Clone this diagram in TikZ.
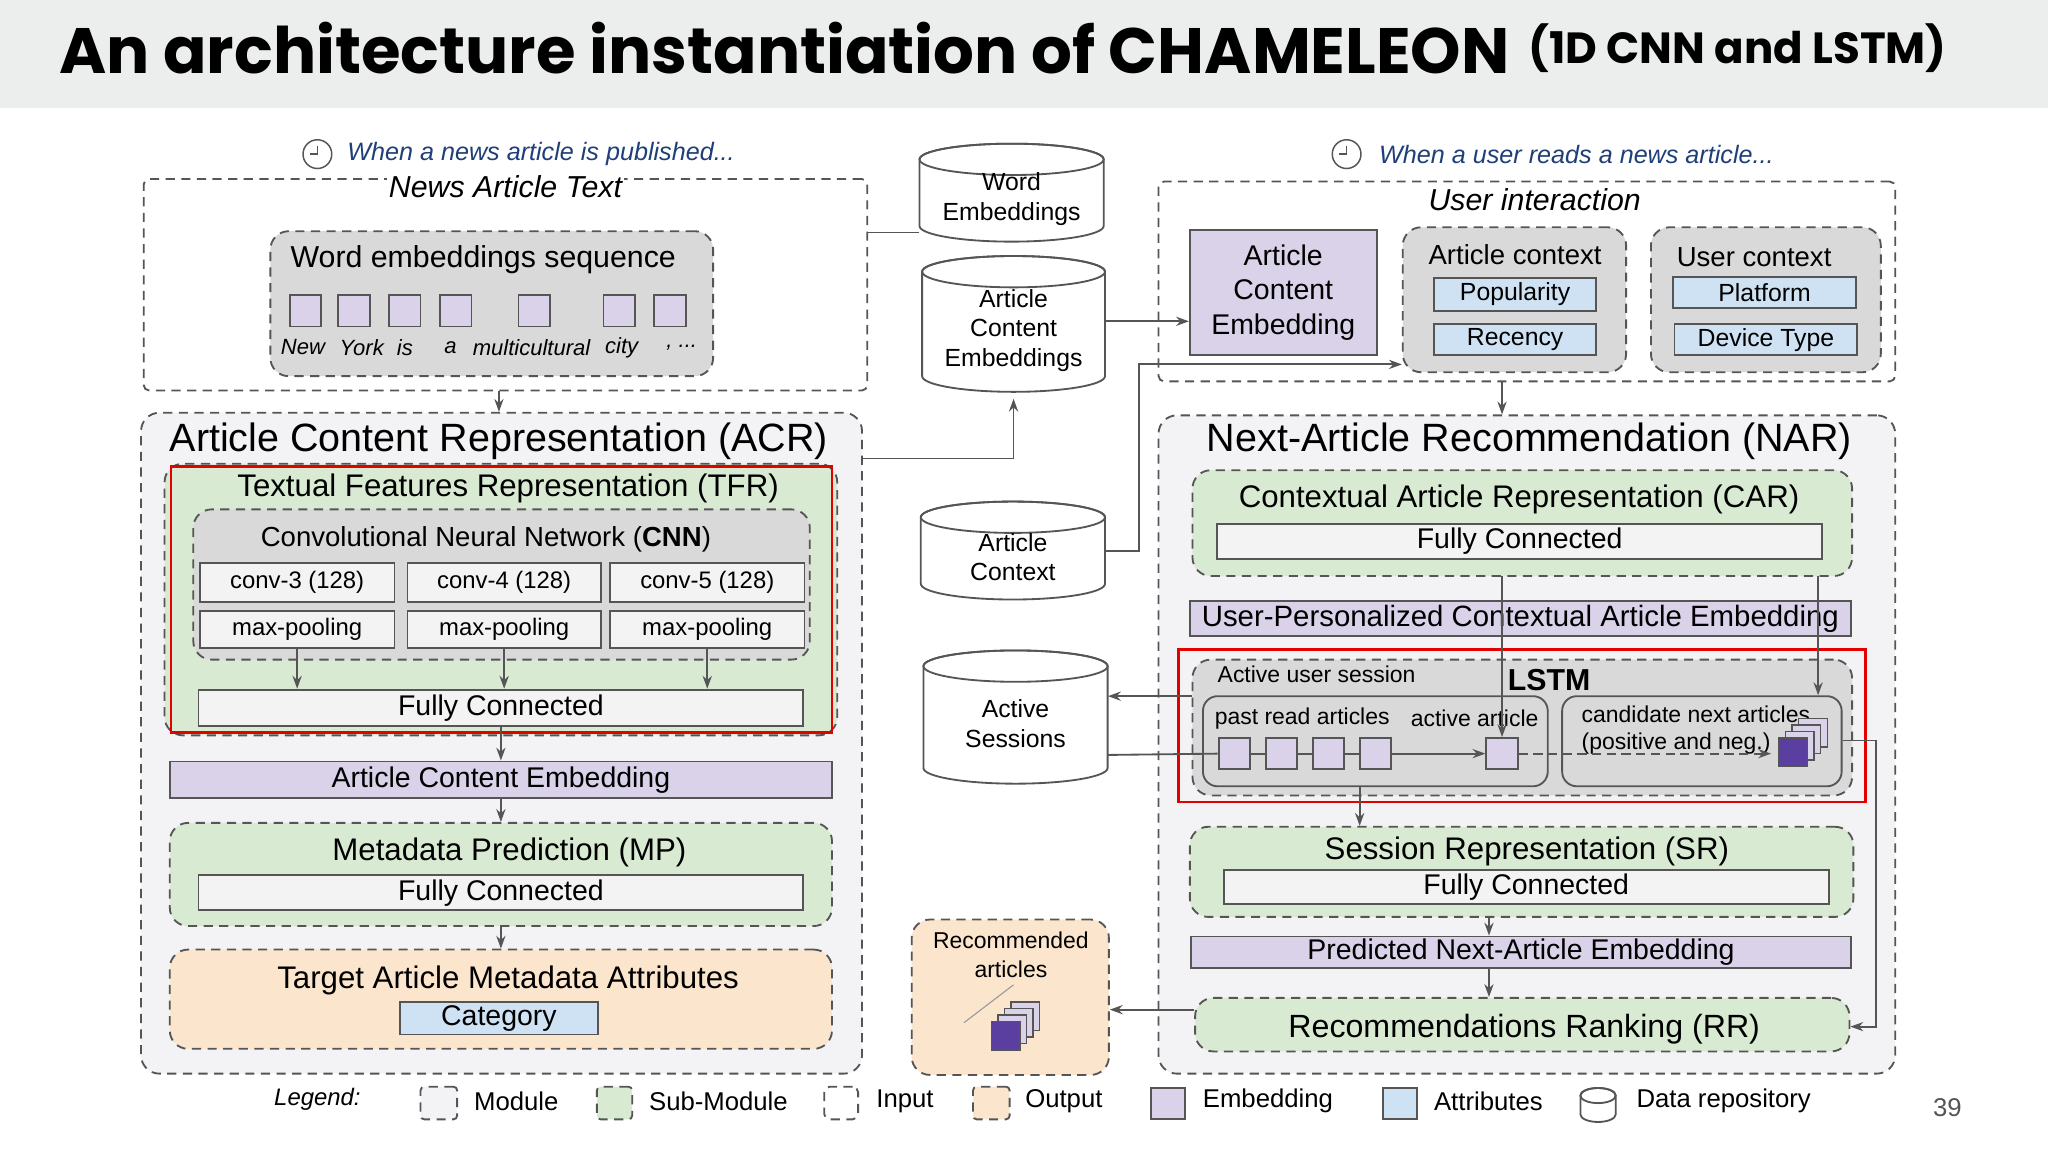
\documentclass[tikz,border=0pt]{standalone}
\usepackage{fontspec}
\setmainfont{Liberation Sans}
\newfontfamily\titlef{Poppins}
\usetikzlibrary{arrows.meta,calc}
\definecolor{modf}{HTML}{F3F3F5}
\definecolor{subf}{HTML}{D9EAD3}
\definecolor{grayf}{HTML}{D9D9D9}
\definecolor{purf}{HTML}{D9D2E9}
\definecolor{bluf}{HTML}{CFE2F3}
\definecolor{peaf}{HTML}{FCE5CD}
\definecolor{whf}{HTML}{F3F3F3}
\definecolor{bd}{HTML}{555555}
\definecolor{hd}{HTML}{1F3F78}
\definecolor{dpur}{HTML}{5B3FA0}
\definecolor{tbar}{HTML}{ECEEED}
\newcommand\fs[2]{\fontsize{#1}{#2}\selectfont}
\newcommand\nb[8][]{\node[#2, minimum width={((#6)-(#4))*0.025cm}, minimum height={((#7)-(#5))*0.025cm}, inner sep=0pt, #1] (#3) at ({((#4)+(#6))/2},{((#5)+(#7))/2}) {#8};}
\newcommand\cyl[6]{%
  \pgfmathsetmacro\ry{min(12,((#5)-(#3))/4.5)}%
  \path[draw=bd,line width=1pt,fill=white] (#2,#3+\ry) -- (#2,#5-\ry) arc[start angle=180,end angle=0,x radius={(#4-#2)/2},y radius=\ry] -- (#4,#3+\ry) arc[start angle=0,end angle=-180,x radius={(#4-#2)/2},y radius=\ry];
  \draw[bd,line width=1pt] ({(#2+#4)/2},#3+\ry) ellipse[x radius={(#4-#2)/2},y radius=\ry];
  \node[minimum width={(#4-#2)*0.025cm}, minimum height={(#5-#3)*0.025cm}, inner sep=0pt, align=center, font=\fs{13.5}{16}] (#1) at ({(#2+#4)/2},{(#3+#5)/2+5}) {#6};}
\newcommand\stk[2]{%
  \foreach \d in {3,2,1}{\draw[bd,fill=purf,line width=.8pt] (#1+\d*5-11,#2-\d*5-11) rectangle ++(22,22);}
  \draw[bd,fill=dpur,line width=.8pt] (#1-11,#2-11) rectangle ++(22,22);}
\newcommand\clock[2]{\draw[bd,line width=.8pt] (#1,#2) circle[radius=11]; \draw[bd,line width=.8pt] (#1,#2-6) -- (#1,#2) -- (#1-6,#2);}
\tikzset{
  x=0.025cm, y=-0.025cm,
  module/.style={draw=bd, line width=1pt, fill=modf, rounded corners=10pt, dash pattern=on 5pt off 3.5pt},
  sub/.style={module, fill=subf},
  inmod/.style={module, fill=white, rounded corners=3pt},
  outmod/.style={module, fill=peaf},
  grayb/.style={module, fill=grayf},
  fc/.style={draw=bd, line width=1pt, fill=whf, font=\fs{15.5}{18}},
  emb/.style={draw=bd, line width=1pt, fill=purf, font=\fs{15.5}{18}},
  att/.style={draw=bd, line width=1pt, fill=bluf, font=\fs{13.5}{16}},
  sq/.style={draw=bd, line width=1pt, fill=purf},
  conv/.style={draw=bd, line width=1pt, fill=whf, font=\fs{13}{15}},
  inner/.style={draw=bd, line width=1pt, fill=grayf, rounded corners=8pt},
  red/.style={draw=red!90!black, line width=1.5pt},
  conn/.style={draw=bd, line width=1pt, -{Stealth[length=7pt,width=5pt]}},
  line/.style={draw=bd, line width=1pt},
  mt/.style={font=\fs{21.5}{25}},
  st/.style={font=\fs{17}{20}},
  lt/.style={font=\fs{14}{17}},
  hdt/.style={font=\fs{13.7}{16}\itshape, text=hd},
}
\begin{document}
\begin{tikzpicture}
\useasboundingbox (0,0) rectangle (1568,882);
\fill[white] (0,0) rectangle (1568,882);
\fill[tbar] (0,0) rectangle (1568,83);
\node[anchor=south west, inner sep=0] (title) at (45,57) {\resizebox{27.75cm}{!}{\titlef\bfseries An architecture instantiation of CHAMELEON}};
\node[anchor=south west, inner sep=0] (title2) at (1170,56) {\resizebox{8cm}{!}{\titlef\bfseries (1D CNN and LSTM)}};

% ===== left input
\clock{243}{118}
\node[hdt, anchor=west] (hl) at (261,118) {When a news article is published...};
\nb{inmod}{inp}{110}{137}{664}{299}{}
\node[st, font=\fs{16.5}{19}\itshape, fill=white, inner sep=1pt] (inpt) at (387,143) {News Article Text};
\nb{grayb}{wes}{207}{177}{546}{288}{}
\node[font=\fs{16.5}{19}] (west) at (370,199) {Word embeddings sequence};
\foreach \x [count=\i] in {234,271,310,349,409,474,513}{
  \nb{sq}{w\i}{\x-12}{226}{\x+12}{250}{}
}
\foreach \x/\w in {232/New,277/York,310/is,345/a,407/multicultural,476/city,522/{, ...}}{
  \node[font=\fs{12}{14}\itshape] at (\x,266) {\w};
}

% ===== ACR
\nb{module}{acr}{108}{316}{660}{822}{}
\node[mt] (acrt) at (382,338) {Article Content Representation (ACR)};
\nb{sub}{tfr}{126}{355}{641}{563}{}
\node[st] (tfrt) at (389,374) {Textual Features Representation (TFR)};
\nb{grayb}{cnn}{148}{390}{620}{505}{}
\node[font=\fs{15}{18}] (cnnt) at (372,413) {Convolutional Neural Network (\textbf{CNN})};
\nb{conv}{c1}{153}{431}{302}{461}{conv-3 (128)}
\nb{conv}{c2}{312}{431}{460}{461}{conv-4 (128)}
\nb{conv}{c3}{467}{431}{616}{461}{conv-5 (128)}
\nb{conv}{p1}{153}{468}{302}{496}{max-pooling}
\nb{conv}{p2}{312}{468}{460}{496}{max-pooling}
\nb{conv}{p3}{467}{468}{616}{496}{max-pooling}
\nb{fc}{fc1}{152}{528}{615}{556}{Fully Connected}
\draw[red] (131,357) rectangle (637,561);
\nb{emb}{ace}{130}{583}{637}{611}{Article Content Embedding}
\nb{sub}{mp}{130}{630}{637}{709}{}
\node[st] (mpt) at (390,653) {Metadata Prediction (MP)};
\nb{fc}{fc2}{152}{670}{615}{697}{Fully Connected}
\nb{outmod}{tma}{130}{727}{637}{803}{}
\node[st] (tmat) at (389,751) {Target Article Metadata Attributes};
\nb{att}{cat}{306}{767}{458}{792}{\fs{15.5}{18}Category}

\draw[conn] (inp.south -| acrt) -- (acr.north -| acrt);
\draw[conn] (p1.south) -- (fc1.north -| p1);
\draw[conn] (p2.south) -- (fc1.north -| p2);
\draw[conn] (p3.south) -- (fc1.north -| p3);
\draw[conn] (fc1.south) -- (ace.north);
\draw[conn] (ace.south) -- (mp.north -| ace);
\draw[conn] (mp.south) -- (tma.north -| mp);

% ===== middle
\cyl{wemb}{704}{110}{845}{185}{Word\\Embeddings}
\cyl{aceb}{706}{196}{846}{300}{Article\\Content\\Embeddings}
\cyl{actx}{705}{384}{846}{459}{Article\\Context}
\cyl{asess}{707}{498}{848}{600}{Active\\Sessions}
\nb{outmod}{rec}{698}{704}{849}{823}{}
\node[align=center, font=\fs{12.5}{16}] (rect) at (774,731) {Recommended\\articles};
\stk{770}{793}
\draw[bd!60, line width=.6pt] (738,783) -- (776,754);

\draw[line] (wemb.west |- 0,178) -- (inp.east |- 0,178);
\coordinate (acrj) at (776,351);
\draw[conn] (acr.north east |- acrj) -- (acrj) -- (aceb.south);

% ===== right
\clock{1031}{118}
\node[hdt, anchor=west] (hr) at (1051,118) {When a user reads a news article...};
\nb{inmod}{ui}{887}{139}{1451}{292}{}
\node[font=\fs{16.5}{19}\itshape] (uit) at (1175,153) {User interaction};
\nb[align=center, font=\fs{15.5}{19}]{emb}{uace}{911}{176}{1054}{272}{Article\\Content\\Embedding}
\nb{grayb}{actb}{1074}{174}{1245}{285}{}
\node[font=\fs{15}{18}] (actt) at (1160,195) {Article context};
\nb{att}{pop}{1098}{213}{1222}{238}{Popularity}
\nb{att}{rcy}{1098}{248}{1222}{272}{Recency}
\nb{grayb}{ucb}{1264}{174}{1440}{285}{}
\node[font=\fs{15}{18}] (uct) at (1343,197) {User context};
\nb{att}{plat}{1281}{212}{1421}{236}{Platform}
\nb{att}{dev}{1282}{248}{1422}{272}{Device Type}

\draw[conn] (aceb.east |- 0,246) -- (uace.west |- 0,246);
\coordinate (cj1) at (872,422);
\coordinate (cj2) at (872,279);
\draw[conn] (actx.east |- cj1) -- (cj1) -- (cj2) -- (actb.west |- cj2);

\nb{module}{nar}{887}{318}{1451}{822}{}
\node[mt] (nart) at (1171,338) {Next-Article Recommendation (NAR)};
\draw[conn] (ui.south -| 1150,0) -- (nar.north -| 1150,0);
\nb{sub}{car}{913}{360}{1418}{441}{}
\node[st] (cart) at (1163,382) {Contextual Article Representation (CAR)};
\nb{fc}{fc3}{932}{401}{1395}{428}{Fully Connected}
\nb[font=\fs{16}{19}]{emb}{upc}{911}{460}{1417}{487}{User-Personalized Contextual Article Embedding}
\nb{grayb}{lstm}{913}{505}{1418}{609}{}
\node[font=\fs{12.5}{15}] (aus) at (1008,516) {Active user session};
\node[font=\fs{16.5}{19}\bfseries] (lstmt) at (1186,521) {LSTM};
\nb{inner}{past}{921}{533}{1185}{602}{}
\nb{inner}{cand}{1196}{533}{1410}{602}{}
\node[font=\fs{12.5}{15}] (prt) at (997,550) {past read articles};
\node[font=\fs{12.5}{15}] (aat) at (1129,550) {active article};
\node[font=\fs{12.5}{15}, align=left, anchor=west] (cnt) at (1206,559) {candidate next articles\\(positive and neg.)};
\foreach \x [count=\i] in {945,981,1017,1053}{\nb{sq}{s\i}{\x-12}{565}{\x+12}{589}{}}
\nb{sq}{sa}{1138}{565}{1162}{589}{}
\stk{1373}{576}
\coordinate (stkin) at (1356,577);
\draw[line] (s1) -- (s2) -- (s3) -- (s4);
\draw[conn] (s4) -- (sa);
\draw[conn, dash pattern=on 5pt off 3pt] (sa) -- (stkin);
\draw[red] (902,497) rectangle (1428,614);
\coordinate (sj) at (1150,441);
\draw[conn] (sj) -- (sa.north);
\coordinate (cj) at (1392,441);
\draw[conn] (cj) -- (cand.north -| cj);
\draw[conn] (lstm.west |- 0,533) -- (asess.east |- 0,533);
\draw[line] (asess.east |- 0,578) -- (s1.west);

\nb{sub}{sr}{911}{633}{1419}{702}{}
\node[st] (srt) at (1169,652) {Session Representation (SR)};
\nb{fc}{fc4}{937}{666}{1400}{692}{Fully Connected}
\nb{emb}{pna}{912}{717}{1417}{741}{Predicted Next-Article Embedding}
\nb{sub}{rr}{915}{764}{1416}{805}{}
\node[font=\fs{17.5}{20}] (rrt) at (1167,788) {Recommendations Ranking (RR)};
\draw[conn] (past.south -| 1041,0) -- (sr.north -| 1041,0);
\draw[conn] (sr.south -| 1140,0) -- (pna.north -| 1140,0);
\draw[conn] (pna.south -| 1140,0) -- (rr.north -| 1140,0);
\coordinate (rj1) at (1436,567);
\coordinate (rj2) at (1436,786);
\draw[conn] (cand.east |- rj1) -- (rj1) -- (rj2) -- (rr.east |- rj2);
\draw[conn] (rr.west |- 0,773) -- (rec.east |- 0,773);

% ===== legend
\node[font=\fs{13}{15}\itshape] (lg) at (243,842) {Legend:};
\nb[rounded corners=2pt]{module}{l1}{322}{832}{350}{857}{}
\node[lt, anchor=west] at (358,843) {Module};
\nb[rounded corners=2pt]{sub}{l2}{457}{832}{484}{857}{}
\node[lt, anchor=west] at (492,843) {Sub-Module};
\nb{inmod}{l3}{631}{832}{657}{857}{}
\node[lt, anchor=west] at (666,843) {Input};
\nb[rounded corners=2pt]{outmod}{l4}{745}{832}{773}{857}{}
\node[lt, anchor=west] at (780,843) {Output};
\nb{emb}{l5}{881}{833}{907}{857}{}
\node[lt, anchor=west] at (916,843) {Embedding};
\nb{att}{l6}{1059}{833}{1085}{857}{}
\node[lt, anchor=west] at (1093,843) {Attributes};
\cyl{l7}{1210}{833}{1237}{859}{}
\node[lt, anchor=west] at (1248,843) {Data repository};
\node[font=\fs{14}{16}, text=bd] (pg) at (1491,848) {39};
\end{tikzpicture}
\end{document}
